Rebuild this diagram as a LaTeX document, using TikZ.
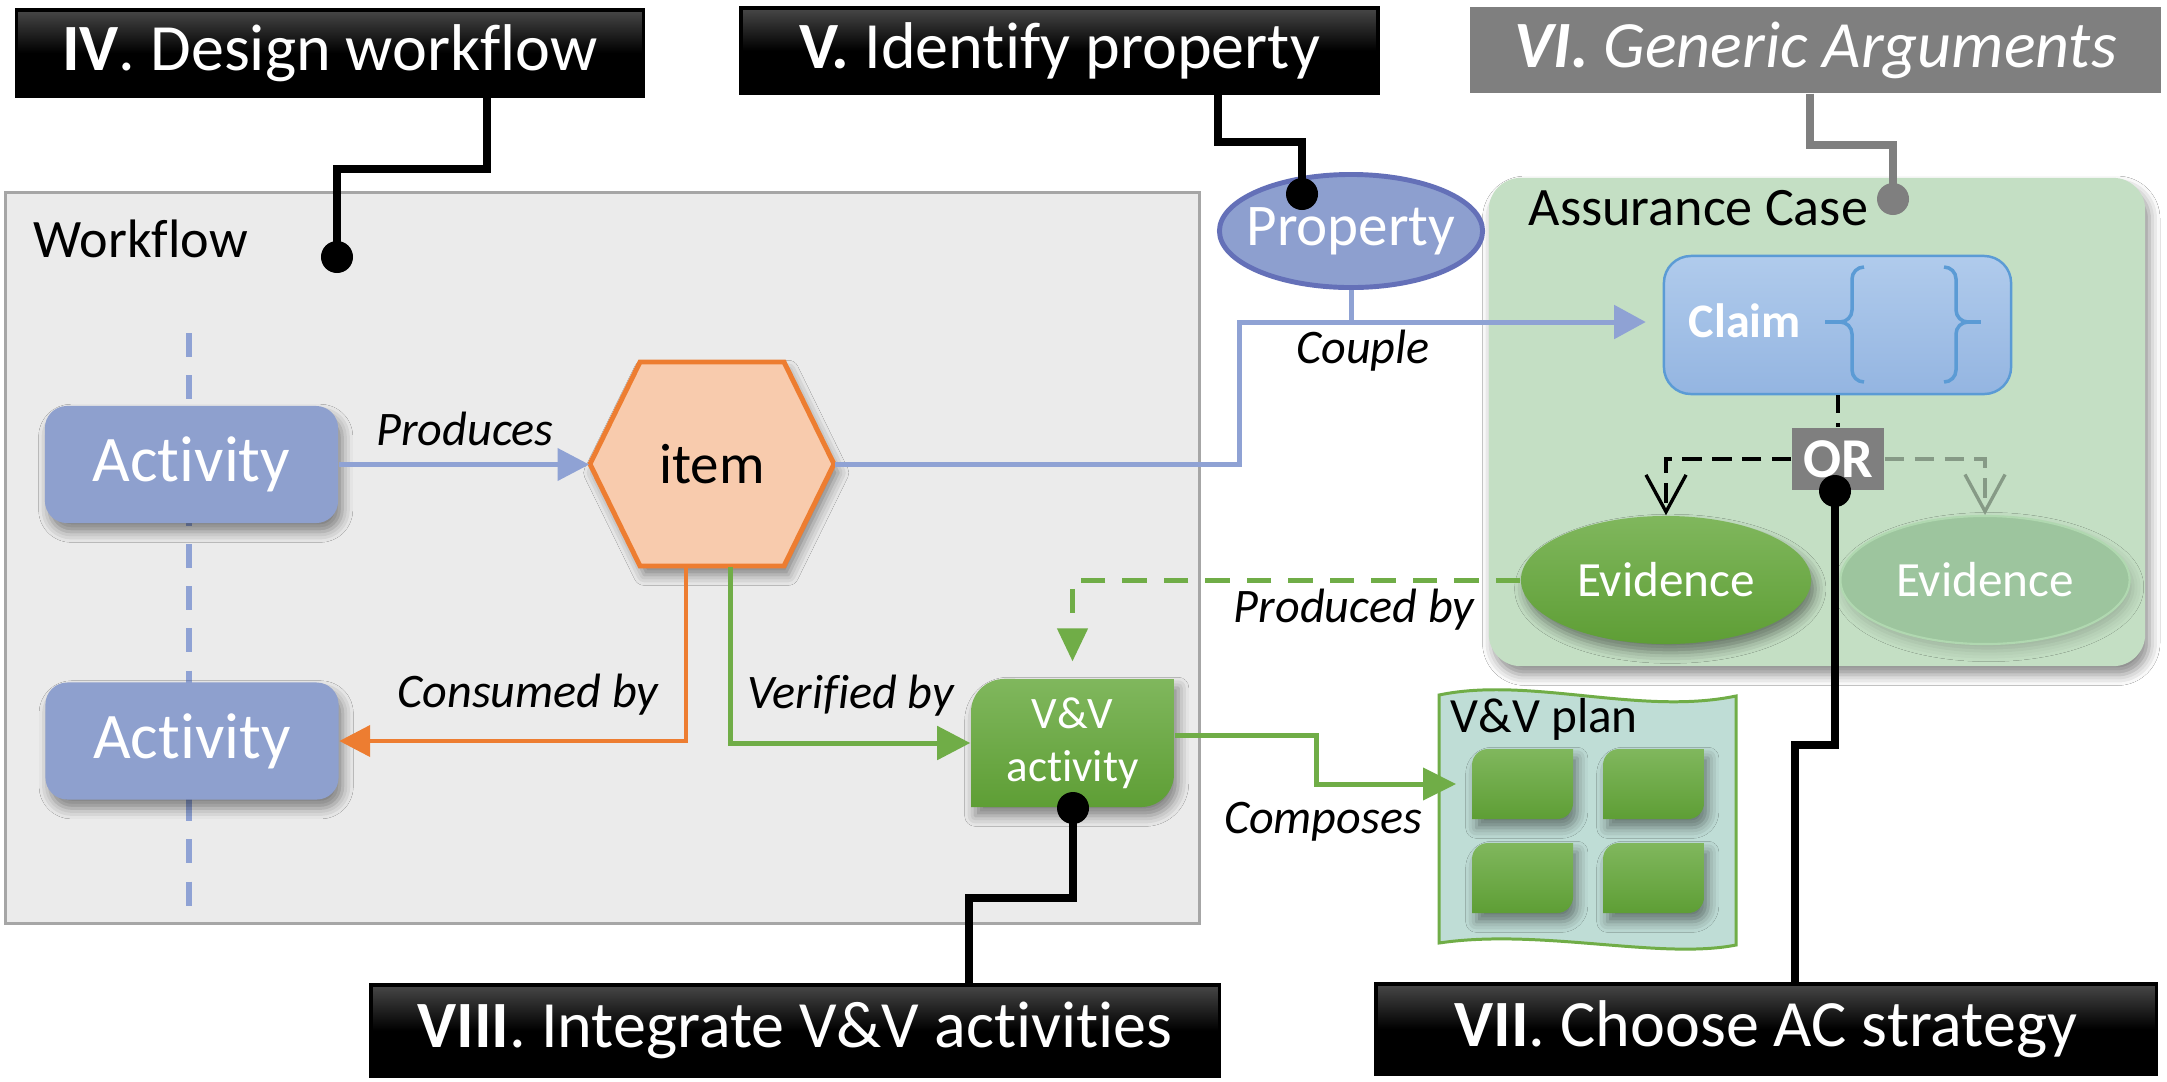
\documentclass[tikz,border=0pt]{standalone}
\usepackage{fontspec}
\setmainfont{Carlito}[Ligatures=NoCommon]
\usetikzlibrary{arrows.meta,shapes.geometric,shadows.blur,calc}
\definecolor{actblue}{HTML}{8EA0CE}
\definecolor{lnblue}{HTML}{8FA2D4}
\definecolor{itemfill}{HTML}{F8CBAD}
\definecolor{myorange}{HTML}{ED7D31}
\definecolor{mygreen}{HTML}{70AD47}
\definecolor{greentop}{HTML}{80B75D}
\definecolor{greenbot}{HTML}{5E9E35}
\definecolor{acfill}{HTML}{C4DFC4}
\definecolor{wffill}{HTML}{EBEBEB}
\definecolor{wfborder}{HTML}{A6A6A6}
\definecolor{propfill}{HTML}{8D9FCF}
\definecolor{propborder}{HTML}{6470B8}
\definecolor{claimtop}{HTML}{B0CBEC}
\definecolor{claimbot}{HTML}{94B5E1}
\definecolor{claimborder}{HTML}{5B9BD5}
\definecolor{orgray}{HTML}{7F7F7F}
\definecolor{evtwofill}{HTML}{9DC59E}
\definecolor{evtwoborder}{HTML}{B0D8B0}
\definecolor{planfill}{HTML}{BFDDD6}
\definecolor{fadegray}{HTML}{869A86}
\tikzset{
  shd/.style={blur shadow={shadow xshift=1.2pt, shadow yshift=-2.5pt, shadow blur radius=3pt, shadow opacity=45}},
  hdr/.style={draw=black, line width=1pt, top color=black!72, bottom color=black, middle color=black,
    text=white, inner sep=0pt, font=\fontsize{18.8}{22}\selectfont},
  hdrgray/.style={fill=orgray, text=white, inner sep=0pt, font=\fontsize{18.8}{22}\selectfont\itshape},
  blk/.style={line width=2.28pt, black},
  gblk/.style={line width=2.28pt, orgray},
  act/.style={rectangle, rounded corners=0.22cm, fill=actblue, text=white, inner sep=0pt,
    minimum width=2.93cm, minimum height=1.17cm, font=\fontsize{18.5}{22}\selectfont, shd},
  lbl/.style={anchor=base, font=\fontsize{13.7}{16}\selectfont\itshape, inner sep=0pt},
  ttl/.style={anchor=base west, font=\fontsize{15.4}{18}\selectfont, inner sep=0pt},
  ghost/.style={inner sep=0pt, draw=none},
  greenshade/.style={top color=greentop, bottom color=greenbot},
  conn/.style={line width=1.42pt},
  tri/.style={-{Triangle[length=9pt,width=9pt]}}
}
% leaf shape: x1 y1 x2 y2 r(px) r(dimension); rounded top-left and bottom-right
\newcommand\leafbox[6]{%
  \path[greenshade, shd] (#1,#4) -- (#1,#2+#5) arc[start angle=180, end angle=90, radius=#6]
    -- (#3,#2) -- (#3,#4-#5) arc[start angle=0, end angle=-90, radius=#6] -- cycle;}
\begin{document}
\begin{tikzpicture}[x=0.01cm, y=-0.01cm]
\useasboundingbox (0,0) rectangle (2167,1081);
\fill[white] (0,0) rectangle (2167,1081);

% Workflow container
\node[ghost, draw=wfborder, fill=wffill, line width=0.85pt, minimum width=11.93cm, minimum height=7.30cm] (wf) at (602.5,558) {};
\node[ttl] (wflbl) at (33,257) {Workflow};

% Assurance case container
\node[ghost, rounded corners=0.32cm, fill=acfill, minimum width=6.56cm, minimum height=4.88cm, shd] (ac) at (1817,422) {};
\node[ttl] (aclbl) at (1528,225) {Assurance Case};

% dashed life line
\coordinate (lt) at (189,333);
\coordinate (lb) at (189,906);
\draw[lnblue, line width=1.5pt, dash pattern=on 6.8pt off 5.2pt] (lt) -- (lb);

% activities
\node[act] (act1) at (191.5,464.5) {Activity};
\node[act] (act2) at (192,741) {Activity};

% item hexagon
\path[fill=itemfill, draw=myorange, line width=1.4pt, shd] (590,464) -- (640,362) -- (784,362) -- (834,464) -- (784,566) -- (640,566) -- cycle;
\node[ghost, minimum width=2.44cm, minimum height=2.04cm, font=\fontsize{16.2}{19}\selectfont] (item) at (712,464) {item};

% V&V activity
\leafbox{971}{679}{1174}{807}{33}{0.33cm}
\node[ghost, minimum width=2.03cm, minimum height=1.28cm, text=white, align=center,
  font=\fontsize{12.8}{15}\selectfont] (vva) at (1072.5,743) {V\&V\\activity};

% V&V plan
\path[fill=planfill, draw=mygreen, line width=0.85pt] (1439,695) .. controls (1530,676) and (1640,716) .. (1736,696)
  -- (1736,945) .. controls (1660,960) and (1540,928) .. (1439,943) -- cycle;
\node[anchor=base west, inner sep=0pt, font=\fontsize{14}{17}\selectfont] (planlbl) at (1450,732) {V\&V plan};
\leafbox{1472}{749}{1573}{819}{16}{0.16cm}
\leafbox{1603}{749}{1704}{819}{16}{0.16cm}
\leafbox{1472}{843}{1573}{913}{16}{0.16cm}
\leafbox{1603}{843}{1704}{913}{16}{0.16cm}
\node[ghost, minimum width=1.01cm, minimum height=0.70cm] (sq1) at (1522.5,784) {};
\node[ghost, minimum width=1.01cm, minimum height=0.70cm] (sq2) at (1653.5,784) {};
\node[ghost, minimum width=1.01cm, minimum height=0.70cm] (sq3) at (1522.5,878) {};
\node[ghost, minimum width=1.01cm, minimum height=0.70cm] (sq4) at (1653.5,878) {};

% property
\node[ellipse, fill=propfill, draw=propborder, line width=1.4pt, inner xsep=-0.12cm, inner ysep=0pt, minimum width=2.63cm, minimum height=1.13cm,
  text=white, font=\fontsize{16.8}{20}\selectfont] (prop) at (1351,231) {Property};

% claim
\node[ghost, rounded corners=0.27cm, top color=claimtop, bottom color=claimbot, draw=claimborder, line width=0.7pt,
  minimum width=3.47cm, minimum height=1.38cm] (claim) at (1837.5,325) {};
\node[anchor=base west, inner sep=0pt, text=white, font=\fontsize{13.7}{16}\selectfont\bfseries] (claimtxt) at (1688,337) {Claim};
\draw[claimborder, line width=1pt] (1825,322) -- (1840,322);
\draw[claimborder, line width=1pt] (1864,267) to[out=180,in=90] (1852,279) -- (1852,310) to[out=-90,in=0] (1840,322)
  to[out=0,in=90] (1852,334) -- (1852,370) to[out=-90,in=180] (1864,382);
\draw[claimborder, line width=1pt] (1944,267) to[out=0,in=90] (1956,279) -- (1956,310) to[out=-90,in=180] (1968,322)
  to[out=180,in=90] (1956,334) -- (1956,370) to[out=-90,in=0] (1944,382);
\draw[claimborder, line width=1pt] (1968,322) -- (1981,322);

% OR
\node[ghost, fill=orgray, minimum width=0.92cm, minimum height=0.62cm, text=white,
  font=\fontsize{16}{19}\selectfont\bfseries] (or) at (1838,459) {OR};

% evidences
\node[ellipse, greenshade, inner sep=0pt, minimum width=2.90cm, minimum height=1.28cm, text=white,
  font=\fontsize{14}{17}\selectfont, shd] (ev1) at (1666,580) {Evidence};
\node[ellipse, fill=evtwofill, draw=evtwoborder, line width=0.6pt, inner sep=0pt, minimum width=2.89cm, minimum height=1.28cm, text=white,
  font=\fontsize{14}{17}\selectfont, blur shadow={shadow xshift=1pt, shadow yshift=-2pt, shadow blur radius=3pt, shadow opacity=20}] (ev2) at (1985,580) {Evidence};

% claim/OR/evidence links
\draw[black, line width=0.95pt, dash pattern=on 5pt off 3pt] (claim.south -| or) -- (or.north);
\draw[black, line width=0.95pt, dash pattern=on 5.5pt off 3pt, -{Straight Barb[length=10.5pt,width=11.4pt]}] (or.west) -| (ev1.north);
\draw[fadegray, line width=0.95pt, dash pattern=on 5.5pt off 3pt, -{Straight Barb[length=10.5pt,width=11.4pt]}] (or.east) -| (ev2.north);

% workflow connectors
\draw[lnblue, conn, tri] (act1.east) -- (act1.east -| item.west);
\coordinate (cA) at (686,742);
\draw[myorange, line width=1.3pt, -{Triangle[length=8.8pt,width=8.8pt]}] (item.south -| cA) |- (act2.east);
\coordinate (cB) at (730,740);
\draw[mygreen, conn, -{Triangle[length=9.4pt,width=9.4pt]}] (item.south -| cB) |- (vva.west);
\draw[mygreen, conn, dash pattern=on 7pt off 4.8pt, -{Triangle[length=9.4pt,width=8.5pt]}, shorten >=4.8pt] (ev1.west) -| (vva.north);
\coordinate (cC) at (1316,735);
\draw[mygreen, conn, -{Triangle[length=9.4pt,width=9pt]}, shorten >=4.3pt] (vva.east |- cC) -- (cC) |- (sq1.west);
\coordinate (cE) at (1239,322);
\draw[lnblue, conn, -{Triangle[length=9pt,width=9.4pt]}, shorten >=4.8pt] (item.east) -- (item.east -| cE) -- (cE) -- (cE -| claim.west);
\draw[lnblue, conn] (prop.south) -- (prop.south |- cE);

% labels
\node[lbl] (lprod) at (465,445) {Produces};
\node[lbl] (lcons) at (528,707) {Consumed by};
\node[lbl] (lver) at (851,708) {Verified by};
\node[lbl] (lcouple) at (1363,363) {Couple};
\node[lbl] (lprodby) at (1354,622) {Produced by};
\node[lbl] (lcomp) at (1323,833) {Composes};

% headers
\node[hdr, minimum width=6.27cm, minimum height=0.86cm] (hIV) at (330,53) {\textbf{IV}. Design workflow};
\node[hdr, minimum width=6.37cm, minimum height=0.85cm] (hV) at (1059.5,50.5) {\textbf{V.} Identify property};
\node[hdrgray, minimum width=6.91cm, minimum height=0.86cm] (hVI) at (1815.5,50) {\textbf{VI.} Generic Arguments};
\node[hdr, minimum width=7.80cm, minimum height=0.90cm] (hVII) at (1766,1029) {\textbf{VII}. Choose AC strategy};
\node[hdr, minimum width=8.48cm, minimum height=0.91cm] (hVIII) at (795,1030.5) {\textbf{VIII}. Integrate V\&V activities};

% header callouts
\coordinate (jIV) at (487,169); \coordinate (dIV) at (337,257);
\draw[blk] (hIV.south -| jIV) -- (jIV) -| (dIV);
\fill[black] (dIV) circle (0.16cm);

\coordinate (jV) at (1218,142); \coordinate (dV) at (1302,194);
\draw[blk] (hV.south -| jV) -- (jV) -| (dV);
\fill[black] (dV) circle (0.16cm);

\coordinate (jVI) at (1810,145); \coordinate (dVI) at (1893,199);
\draw[gblk] (hVI.south -| jVI) -- (jVI) -| (dVI);
\fill[orgray] (dVI) circle (0.16cm);

\coordinate (dVII) at (1835,491); \coordinate (jVII) at (1835,745); \coordinate (kVII) at (1795,745);
\draw[blk] (dVII) -- (jVII) -- (kVII) -- (kVII |- hVII.north);
\fill[black] (dVII) circle (0.16cm);

\coordinate (dVIII) at (1073,808); \coordinate (jVIII) at (1073,898); \coordinate (kVIII) at (969,898);
\draw[blk] (dVIII) -- (jVIII) -- (kVIII) -- (kVIII |- hVIII.north);
\fill[black] (dVIII) circle (0.16cm);
\end{tikzpicture}
\end{document}
